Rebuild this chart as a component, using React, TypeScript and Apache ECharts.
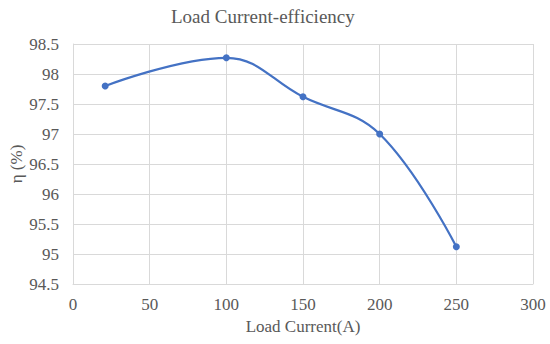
import React, { useEffect, useRef } from "react";
import * as echarts from "echarts";

const loadCurrent = [21, 100, 150, 200, 250];
const efficiency = [97.8, 98.27, 97.62, 97.0, 95.12];

const FONT = "Liberation Serif";
const TEXT = "#595959";
const GRID = "#d9d9d9";

export default function App() {
  const ref = useRef<HTMLDivElement>(null);
  useEffect(() => {
    const chart = echarts.init(ref.current!, null, { renderer: "svg" });
    chart.setOption({
      animation: false,
      backgroundColor: "#ffffff",
      textStyle: { fontFamily: FONT },
      title: {
        text: "Load Current-efficiency",
        left: 166,
        top: 2,
        textStyle: { fontFamily: FONT, fontSize: 19, fontWeight: "normal", color: TEXT },
      },
      grid: { left: 73, right: 17, top: 44, bottom: 60, outerBoundsMode: "none", containLabel: false },
      xAxis: {
        type: "value",
        min: 0,
        max: 300,
        interval: 50,
        name: "Load Current(A)",
        nameLocation: "middle",
        nameGap: 34,
        nameMoveOverlap: false,
        nameTextStyle: { fontFamily: FONT, fontSize: 17, color: TEXT },
        axisLine: { show: true, lineStyle: { color: GRID, width: 1 } },
        axisTick: { show: false },
        axisLabel: { fontFamily: FONT, fontSize: 17, color: TEXT, margin: 12 },
        splitLine: { show: true, lineStyle: { color: GRID, width: 1 } },
      },
      yAxis: {
        type: "value",
        min: 94.5,
        max: 98.5,
        interval: 0.5,
        name: "η (%)",
        nameLocation: "middle",
        nameGap: 48,
        nameMoveOverlap: false,
        nameTextStyle: { fontFamily: FONT, fontSize: 17, color: TEXT },
        axisLine: { show: true, lineStyle: { color: GRID, width: 1 } },
        axisTick: { show: false },
        axisLabel: { fontFamily: FONT, fontSize: 17, color: TEXT, margin: 14 },
        splitLine: { show: true, lineStyle: { color: GRID, width: 1 } },
      },
      series: [
        {
          type: "line",
          data: loadCurrent.map((x, i) => [x, efficiency[i]]),
          smooth: 0.4,
          symbol: "circle",
          symbolSize: 7,
          lineStyle: { color: "#4472C4", width: 2.25 },
          itemStyle: { color: "#4472C4" },
        },
      ],
    });
    return () => chart.dispose();
  }, []);
  return <div ref={ref} style={{ width: 550, height: 344, position: "absolute", left: 0, top: 0 }} />;
}
